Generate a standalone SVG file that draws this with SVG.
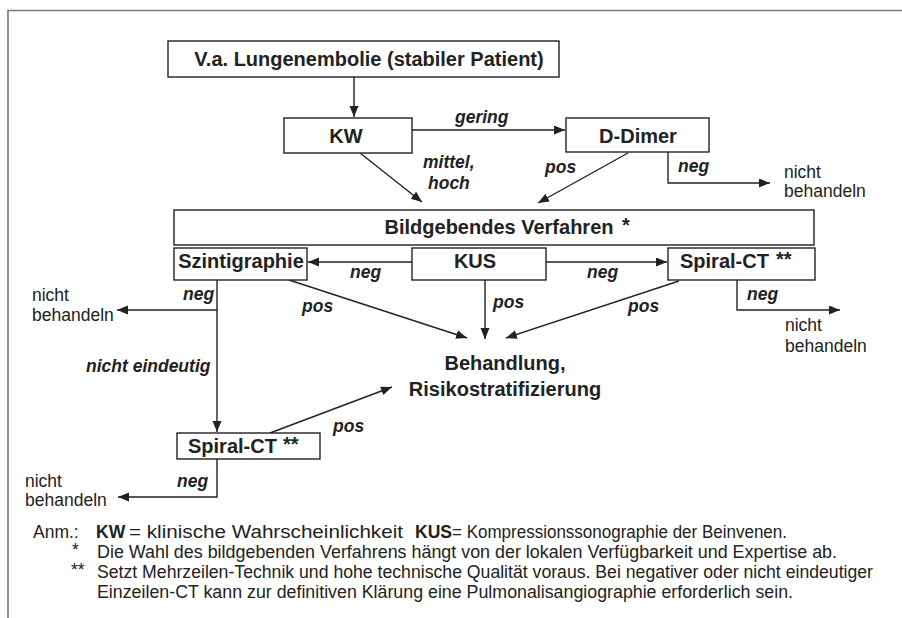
<svg xmlns="http://www.w3.org/2000/svg" width="902" height="618" viewBox="0 0 902 618">
<style>
.box{fill:#fff;stroke:#222;stroke-width:1.4}
.nt{font-family:"Liberation Sans",Arial,sans-serif;font-weight:bold;font-size:20px;fill:#222}
.lb{font-family:"Liberation Sans",Arial,sans-serif;font-weight:bold;font-style:italic;font-size:17.5px;fill:#222}
.rg{font-family:"Liberation Sans",Arial,sans-serif;font-size:17.5px;fill:#222}
.fn{font-family:"Liberation Sans",Arial,sans-serif;font-size:17.5px;fill:#222}
.fb{font-family:"Liberation Sans",Arial,sans-serif;font-size:17.5px;font-weight:bold;fill:#222}
.ln{fill:none;stroke:#222;stroke-width:1.4;marker-end:url(#ah)}
</style>
<defs>
<marker id="ah" markerUnits="userSpaceOnUse" markerWidth="12" markerHeight="10" refX="11" refY="4.5" orient="auto">
<path d="M0,0 L11,4.5 L0,9 z" fill="#222"/>
</marker>
</defs>
<rect width="902" height="618" fill="#fff"/>
<path d="M8,618 L8,10.5 L902,10.5" fill="none" stroke="#777" stroke-width="1.6"/>

<g id="connectors">
<path class="ln" d="M354,77 L354,117"/>
<path class="ln" d="M412,130 L565,130"/>
<path class="ln" d="M360,153 L422,202"/>
<path class="ln" d="M628,153 L538,203"/>
<path class="ln" d="M668,152 L668,183 L770,183"/>
<path class="ln" d="M412,262 L308,262"/>
<path class="ln" d="M546,262 L667,262"/>
<path class="ln" d="M217,280 L217,432"/>
<path class="ln" d="M217,310 L117,310"/>
<path class="ln" d="M289,280 L467,338"/>
<path class="ln" d="M485,280 L485,339"/>
<path class="ln" d="M679,281 L506,338"/>
<path class="ln" d="M737,280 L737,310 L840,310"/>
<path class="ln" d="M270,433 L392,387"/>
<path class="ln" d="M217,459 L217,497 L118,497"/>
<text class="lb" x="455" y="123">gering</text>
<text class="lb" x="423" y="168">mittel,</text>
<text class="lb" x="428" y="189">hoch</text>
<text class="lb" x="545" y="173">pos</text>
<text class="lb" x="678" y="172">neg</text>
<text class="lb" x="350" y="278">neg</text>
<text class="lb" x="587" y="278">neg</text>
<text class="lb" x="183" y="300">neg</text>
<text class="lb" x="302" y="312">pos</text>
<text class="lb" x="493" y="308">pos</text>
<text class="lb" x="628" y="312">pos</text>
<text class="lb" x="747" y="300">neg</text>
<text class="lb" x="86" y="372">nicht eindeutig</text>
<text class="lb" x="333" y="432">pos</text>
<text class="lb" x="177" y="487">neg</text>
</g>

<g id="n-start">
<rect class="box" x="168" y="41" width="391" height="36"/>
<text class="nt" x="369" y="66" text-anchor="middle">V.a. Lungenembolie (stabiler Patient)</text>
</g>
<g id="n-kw">
<rect class="box" x="284" y="118" width="128" height="35"/>
<text class="nt" x="346" y="143" text-anchor="middle">KW</text>
</g>
<g id="n-ddimer">
<rect class="box" x="566" y="118" width="143" height="34"/>
<text class="nt" x="638" y="143" text-anchor="middle">D-Dimer</text>
</g>
<g id="n-nb1">
<text class="rg" x="784" y="178">nicht</text>
<text class="rg" x="784" y="197">behandeln</text>
</g>
<g id="n-bild">
<rect class="box" x="174" y="210" width="640" height="35"/>
<text class="nt" x="499" y="234" text-anchor="middle">Bildgebendes Verfahren</text>
<text class="nt" x="622" y="232" font-size="22">*</text>
</g>
<g id="n-szint">
<rect class="box" x="174" y="248" width="133" height="32"/>
<text class="nt" x="241" y="268" text-anchor="middle">Szintigraphie</text>
</g>
<g id="n-kus">
<rect class="box" x="412" y="248" width="134" height="32"/>
<text class="nt" x="475" y="268" text-anchor="middle">KUS</text>
</g>
<g id="n-spiral1">
<rect class="box" x="668" y="248" width="147" height="32"/>
<text class="nt" x="680" y="268">Spiral-CT</text>
<text class="nt" x="776" y="266" font-size="22">**</text>
</g>
<g id="n-nb2">
<text class="rg" x="32" y="301">nicht</text>
<text class="rg" x="32" y="321">behandeln</text>
</g>
<g id="n-nb3">
<text class="rg" x="785" y="331">nicht</text>
<text class="rg" x="785" y="352">behandeln</text>
</g>
<g id="n-behandlung">
<text class="nt" x="505" y="370" text-anchor="middle">Behandlung,</text>
<text class="nt" x="505" y="396" text-anchor="middle">Risikostratifizierung</text>
</g>
<g id="n-spiral2">
<rect class="box" x="177" y="433" width="143" height="26"/>
<text class="nt" x="188" y="453">Spiral-CT</text>
<text class="nt" x="283" y="451" font-size="22">**</text>
</g>
<g id="n-nb4">
<text class="rg" x="25" y="487">nicht</text>
<text class="rg" x="25" y="506">behandeln</text>
</g>

<g id="footnote">
<text class="fn" x="33" y="538">Anm.:</text>
<text class="fb" x="96" y="538">KW</text>
<text class="fn" x="129" y="538" font-size="18.5" textLength="274" lengthAdjust="spacingAndGlyphs">= klinische Wahrscheinlichkeit</text>
<text class="fb" x="415" y="538">KUS</text>
<text class="fn" x="452" y="538" textLength="335" lengthAdjust="spacingAndGlyphs">= Kompressionssonographie der Beinvenen.</text>
<text class="fn" x="72" y="556" font-size="20">*</text>
<text class="fn" x="97" y="558" textLength="740" lengthAdjust="spacingAndGlyphs">Die Wahl des bildgebenden Verfahrens hängt von der lokalen Verfügbarkeit und Expertise ab.</text>
<text class="fn" x="71" y="576" font-size="20">**</text>
<text class="fn" x="97" y="578" textLength="776" lengthAdjust="spacingAndGlyphs">Setzt Mehrzeilen-Technik und hohe technische Qualität voraus. Bei negativer oder nicht eindeutiger</text>
<text class="fn" x="97" y="598" textLength="696" lengthAdjust="spacingAndGlyphs">Einzeilen-CT kann zur definitiven Klärung eine Pulmonalisangiographie erforderlich sein.</text>
</g>
</svg>
